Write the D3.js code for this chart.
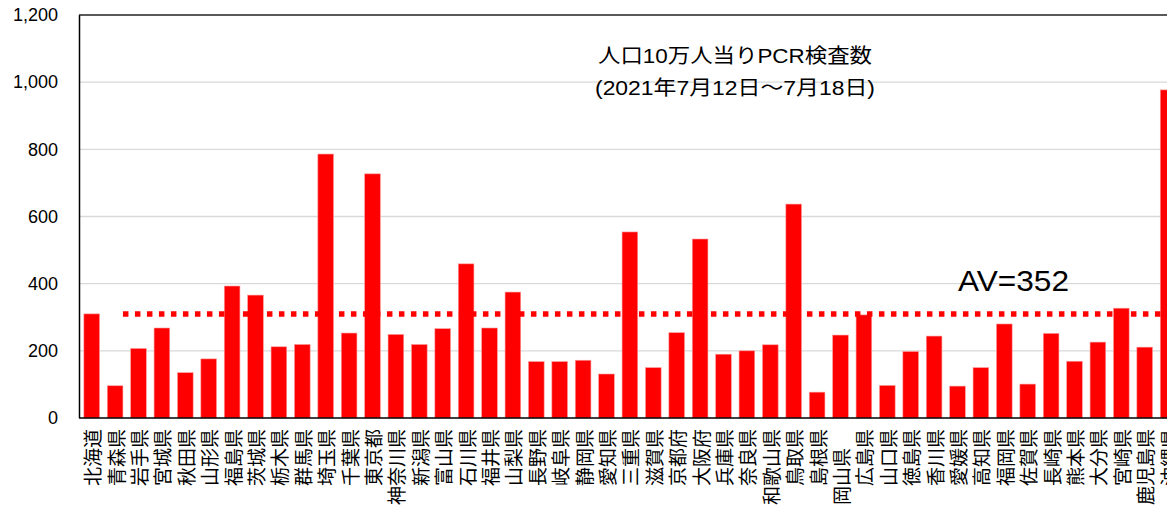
<!DOCTYPE html>
<html>
<head>
<meta charset="utf-8">
<script src="https://cdn.jsdelivr.net/npm/d3@7/dist/d3.min.js"></script>
<style>
    body { margin: 0; background: #fff; }
    svg { display: block; }
    text { font-family: "Liberation Sans", Arial, "Noto Sans CJK JP", sans-serif; fill: #000; }
    .xlab { font-family: "Noto Sans CJK JP", sans-serif; white-space: pre; }
</style>
</head>
<body>
<svg></svg>
<script>
/*
Chart data.
 */
var prefectures = ["北海道", "青森県", "岩手県", "宮城県", "秋田県", "山形県", "福島県", "茨城県",
    "栃木県", "群馬県", "埼玉県", "千葉県", "東京都", "神奈川県", "新潟県", "富山県", "石川県",
    "福井県", "山梨県", "長野県", "岐阜県", "静岡県", "愛知県", "三重県", "滋賀県", "京都府",
    "大阪府", "兵庫県", "奈良県", "和歌山県", "鳥取県", "島根県", "岡山県　", "広島県", "山口県",
    "徳島県", "香川県", "愛媛県", "高知県", "福岡県", "佐賀県", "長崎県", "熊本県", "大分県",
    "宮崎県", "鹿児島県", "沖縄県"];
var pcrPer100k = [310, 96, 207, 268, 135, 176, 393, 366,
    212, 219, 786, 253, 727, 249, 219, 266, 459,
    268, 375, 168, 168, 172, 131, 554, 150, 254,
    533, 190, 200, 218, 637, 77, 247, 307, 97,
    198, 244, 95, 150, 280, 101, 252, 169, 226,
    327, 211, 977];
var yTicks = [0, 200, 400, 600, 800, 1000, 1200];
var titleLines = ["人口10万人当りPCR検査数", "(2021年7月12日～7月18日)"];
var avLabel = "AV=352";
var avLineValue = 310;

/*
Static constants
 */
const width = 1167;
const height = 508;
const plotLeft = 80;
const plotTop = 15;
const plotBottom = 418;
const step = 23.4;
const barColor = "#ff0000";

var svg = d3.select("svg")
    .attr("width", width)
    .attr("height", height);

var x = d3.scaleBand()
    .domain(prefectures)
    .range([plotLeft, plotLeft + step * prefectures.length])
    .paddingInner(0.33)
    .paddingOuter(0.165);

var y = d3.scaleLinear()
    .domain([0, 1200])
    .range([plotBottom, plotTop]);

//gridlines (the top one is the black frame line)
svg.append("g")
    .selectAll("line")
    .data(yTicks.filter(function(d) { return d > 0 && d < 1200; }))
    .join("line")
    .attr("x1", plotLeft)
    .attr("x2", width)
    .attr("y1", function(d) { return y(d); })
    .attr("y2", function(d) { return y(d); })
    .attr("stroke", "#d9d9d9")
    .attr("stroke-width", 1.3);

//y axis labels, no tick marks
var yAxis = d3.axisLeft(y)
    .tickValues(yTicks)
    .tickFormat(d3.format(","))
    .tickSize(0)
    .tickPadding(22);
var yg = svg.append("g")
    .attr("transform", "translate(" + plotLeft + ",0)")
    .call(yAxis);
yg.select(".domain").remove();
yg.selectAll("text")
    .attr("font-size", 18)
    .attr("font-family", "Liberation Sans, Arial, sans-serif");

//bars
svg.append("g")
    .selectAll("rect")
    .data(pcrPer100k)
    .join("rect")
    .attr("x", function(d, i) { return x(prefectures[i]); })
    .attr("width", x.bandwidth())
    .attr("y", function(d) { return y(d); })
    .attr("height", function(d) { return y(0) - y(d); })
    .attr("fill", barColor)
    .attr("stroke", "#ff9c9c")
    .attr("stroke-width", 0.6);

//average line, dotted - starts at the right edge of the 2nd bar
svg.append("line")
    .attr("x1", x(prefectures[1]) + x.bandwidth())
    .attr("x2", width)
    .attr("y1", y(avLineValue))
    .attr("y2", y(avLineValue))
    .attr("stroke", barColor)
    .attr("stroke-width", 5.5)
    .attr("stroke-dasharray", "5.5,6.5");

//frame lines: left, top, bottom
svg.append("line")
    .attr("x1", plotLeft - 0.5).attr("x2", plotLeft - 0.5)
    .attr("y1", plotTop).attr("y2", plotBottom)
    .attr("stroke", "#000").attr("stroke-width", 1.5);
svg.append("line")
    .attr("x1", plotLeft - 1).attr("x2", width)
    .attr("y1", plotTop).attr("y2", plotTop)
    .attr("stroke", "#222").attr("stroke-width", 1.5);
svg.append("line")
    .attr("x1", plotLeft - 1).attr("x2", width)
    .attr("y1", plotBottom).attr("y2", plotBottom)
    .attr("stroke", "#000").attr("stroke-width", 1.5);

//category labels, rotated so they read bottom to top
svg.append("g")
    .selectAll("text")
    .data(prefectures)
    .join("text")
    .attr("class", "xlab")
    .attr("transform", function(d) {
        return "translate(" + (x(d) + x.bandwidth() / 2) + ",429) rotate(-90)";
    })
    .attr("text-anchor", "end")
    .attr("dominant-baseline", "central")
    .attr("font-size", 19)
    .text(function(d) { return d; });

//title
svg.append("g")
    .selectAll("text")
    .data(titleLines)
    .join("text")
    .attr("x", 735)
    .attr("y", function(d, i) { return 63 + i * 32; })
    .attr("text-anchor", "middle")
    .attr("font-size", 20)
    .attr("textLength", function(d, i) { return i === 0 ? 274 : 280; })
    .attr("lengthAdjust", "spacingAndGlyphs")
    .text(function(d) { return d; });

svg.append("text")
    .attr("x", 958)
    .attr("y", 291)
    .attr("font-size", 29)
    .attr("textLength", 111)
    .attr("lengthAdjust", "spacingAndGlyphs")
    .text(avLabel);
</script>
</body>
</html>
